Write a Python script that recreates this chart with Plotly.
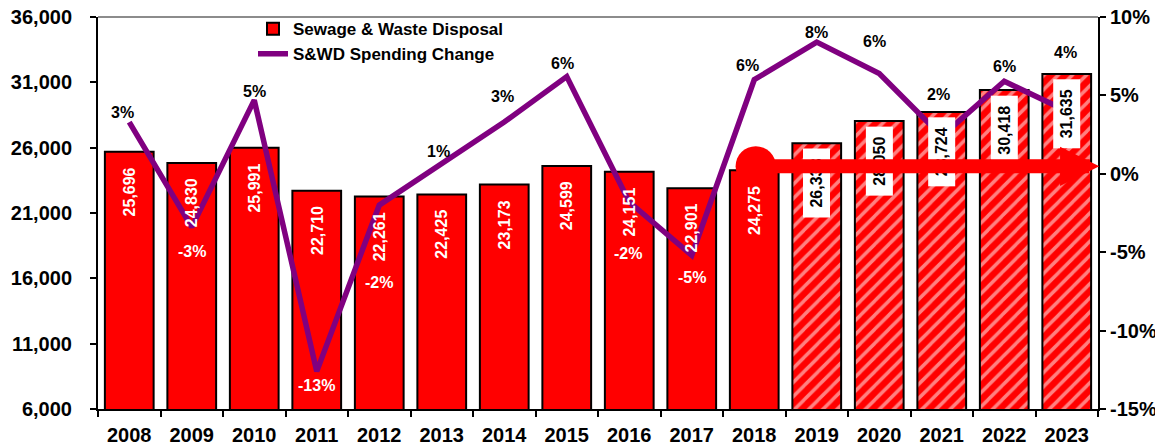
import plotly.graph_objects as go

years = ["2008", "2009", "2010", "2011", "2012", "2013", "2014", "2015",
         "2016", "2017", "2018", "2019", "2020", "2021", "2022", "2023"]
spending = [25696, 24830, 25991, 22710, 22261, 22425, 23173, 24599,
            24151, 22901, 24275, 26338, 28050, 28724, 30418, 31635]
pct_change = [3.3, -3.4, 4.7, -12.6, -2.0, 0.7, 3.3, 6.2,
              -1.8, -5.2, 6.0, 8.4, 6.4, 2.4, 5.9, 4.0]
forecast = [False] * 11 + [True] * 5

pct_tickvals = [-15, -10, -5, 0, 5, 10]
pct_ticktext = ["-15%", "-10%", "-5%", "0%", "5%", "10%"]

# label placement (pixel offsets of percent labels from their points)
pct_dy = [10, -24, 9, -14, -77, 11, 26, 13, -51, -22, 14, 10, 32, 42, 15, 59]
pct_dx = [-7, 0, 0, 0, 0, -3, -2, -4, -1, 0, -7, 0, -5, -3, 0, -1]

FONT = "Liberation Sans, Arial, sans-serif"
RED = "#FF0000"
PURPLE = "#800080"

fig = go.Figure()
fig.add_trace(go.Bar(
    x=years, y=spending, name="Sewage & Waste Disposal",
    marker=dict(color=RED, line=dict(color="black", width=2),
                pattern=dict(shape=["/" if f else "" for f in forecast],
                             fgcolor="white", size=10, solidity=0.35)),
    yaxis="y",
))
fig.add_trace(go.Scatter(
    x=years, y=pct_change, name="S&WD Spending Change", mode="lines",
    line=dict(color=PURPLE, width=5.5), yaxis="y2",
))

anns = []
# hatched (forecast) bar labels first, so the arrow is drawn over them
for i, v in enumerate(spending):
    if forecast[i]:
        anns.append(dict(x=i, y=v, xref="x", yref="y", text=f"{v:,}",
                         textangle=-90, showarrow=False, xanchor="center", yanchor="top",
                         yshift=-5, width=60, height=18, borderpad=4, bgcolor="white",
                         font=dict(family=FONT, size=16, color="black", weight="bold")))
# arrow from 2018 across forecast years
anns.append(dict(x=15.52, y=spending[10] + 300, xref="x", yref="y",
                 ax=10, ay=spending[10] + 300, axref="x", ayref="y", text="",
                 showarrow=True, arrowcolor=RED, arrowwidth=14, arrowhead=2, arrowsize=0.56,
                 arrowside="end+start", startarrowhead=6, startarrowsize=0.72,
                 standoff=0, startstandoff=0))
for i, v in enumerate(spending):
    if not forecast[i]:
        anns.append(dict(x=i, y=v, xref="x", yref="y", text=f"{v:,}",
                         textangle=-90, showarrow=False, xanchor="center", yanchor="top",
                         yshift=-5, width=60, height=18, borderpad=4,
                         font=dict(family=FONT, size=16, color="white", weight="bold")))
for i, p in enumerate(pct_change):
    below = pct_dy[i] < 0
    anns.append(dict(x=i, y=p, xref="x", yref="y2", text=f"{p:.0f}%",
                     showarrow=False, xanchor="center", yanchor="middle",
                     yshift=pct_dy[i], xshift=pct_dx[i],
                     font=dict(family=FONT, size=16, color="white" if below else "black",
                               weight="bold")))

# the page body adds an 8px offset; the sizes below compensate for it
fig.update_layout(
    width=1155, height=438,
    margin=dict(l=90, r=65, t=9, b=37, autoexpand=False),
    paper_bgcolor="white", plot_bgcolor="white",
    bargap=0.22,
    showlegend=True,
    legend=dict(x=0.155, y=1.015, xanchor="left", yanchor="top", bgcolor="rgba(0,0,0,0)",
                font=dict(family=FONT, size=17, color="black", weight="bold"),
                tracegroupgap=0),
    xaxis=dict(type="category", range=[-0.5, 15.5], tickson="boundaries",
               ticks="outside", ticklen=6, tickwidth=1.5, tickcolor="black",
               showline=True, linecolor="black", linewidth=2, showgrid=False,
               automargin=False, ticklabelstandoff=7, ticklabeloverflow="allow",
               tickfont=dict(family=FONT, size=20, color="black", weight="bold")),
    yaxis=dict(range=[6000, 36000], tick0=6000, dtick=5000, tickformat=",d",
               ticks="outside", ticklen=6, tickwidth=1.5, tickcolor="black",
               showline=True, linecolor="black", linewidth=2, showgrid=False, zeroline=False,
               ticklabelstandoff=14, automargin=False, ticklabeloverflow="allow",
               tickfont=dict(family=FONT, size=20, color="black", weight="bold")),
    yaxis2=dict(range=[-15, 10], tickmode="array", tickvals=pct_tickvals, ticktext=pct_ticktext,
                overlaying="y", side="right",
                ticks="outside", ticklen=6, tickwidth=1.5, tickcolor="black",
                showline=True, linecolor="black", linewidth=2, showgrid=False, zeroline=False,
                ticklabelstandoff=0, automargin=False, ticklabeloverflow="allow",
                tickfont=dict(family=FONT, size=20, color="black", weight="bold")),
    annotations=anns,
    shapes=[dict(type="line", xref="paper", yref="paper", x0=0, x1=1, y0=1, y1=1,
                 line=dict(color="#8c8c8c", width=2))],
)

fig.write_html("out.html")
